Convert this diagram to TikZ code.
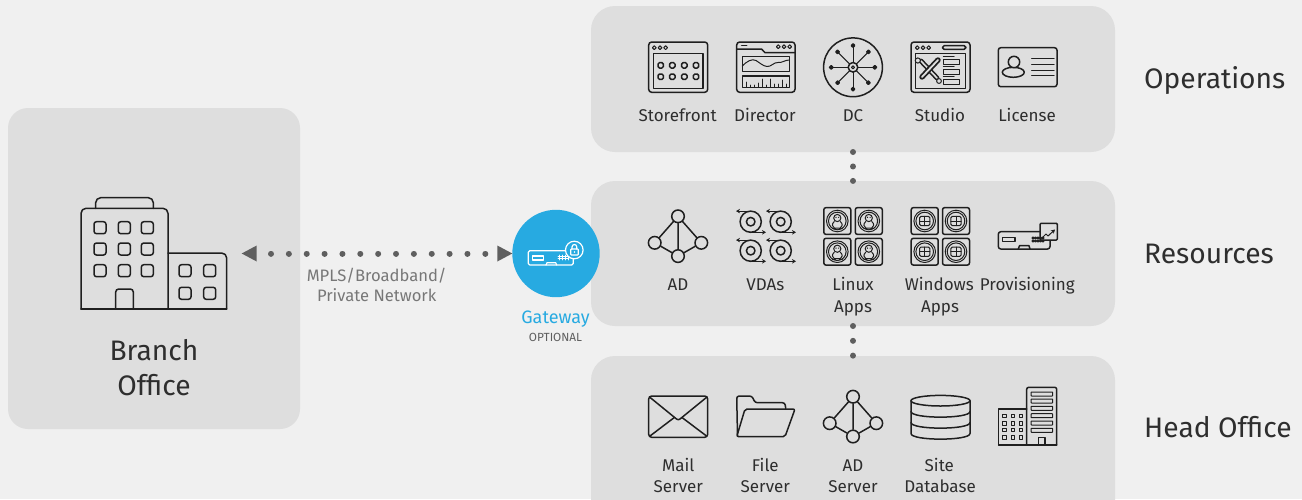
\documentclass[tikz,border=0pt]{standalone}
\usepackage{fontspec}
\setmainfont{Fira Sans}
\usetikzlibrary{arrows.meta}
\definecolor{pagebg}{HTML}{F0F0F0}
\definecolor{panelbg}{HTML}{DEDEDE}
\definecolor{iconc}{HTML}{1F1F1F}
\definecolor{txt}{HTML}{2E2E2E}
\definecolor{linkc}{HTML}{5F5F5F}
\definecolor{mutedc}{HTML}{777777}
\definecolor{gwblue}{HTML}{27AAE1}
\tikzset{
  x=1pt,y=-1pt,
  panelbox/.style={fill=panelbg,rounded corners=24pt,draw=none,inner sep=0,outer sep=0},
  ic/.style={draw=iconc,line width=1.5pt,line join=round,line cap=round},
  thinic/.style={draw=iconc,line width=1pt,line join=round,line cap=round},
  lab/.style={font=\fontsize{17}{20}\selectfont,text=txt,inner sep=0,anchor=base,yshift=-6pt},
  biglab/.style={font=\fontsize{28.2}{32}\selectfont,text=txt,inner sep=0,anchor=base,yshift=-10pt},
  sidelab/.style={font=\fontsize{28.2}{32}\selectfont,text=txt,inner sep=0,anchor=base west,yshift=-10pt},
  mutedlab/.style={font=\fontsize{16.6}{19}\selectfont,text=mutedc,inner sep=0,anchor=base,yshift=-6pt},
  dotlink/.style={draw=linkc,line width=6pt,line cap=round},
  adn/.style={circle,draw=iconc,line width=1.5pt,minimum size=12.6pt,inner sep=0,fill=panelbg},
  adicon/.pic={
    \node[adn] (-t) at (0,0) {};
    \node[adn] (-l) at (-23.3,26.5) {};
    \node[adn] (-r) at (23.3,26.5) {};
    \node[adn] (-b) at (0,39.8) {};
    \draw[ic] (-t)--(-l) (-t)--(-r) (-t)--(-b) (-l)--(-b) (-r)--(-b);
  },
  reel/.pic={
    \draw[ic] (0,0) circle[radius=10.6];
    \draw[ic] (0,0) circle[radius=4.3];
    \draw[thinic,-{Stealth[length=4pt,width=4.5pt]}] (0,-10.6) -- (-14.7,-10.6);
    \draw[thinic,-{Stealth[length=4pt,width=4.5pt]}] (0,10.6) -- (15.3,10.6);
  },
  tile/.pic={
    \draw[ic,rounded corners=2.2pt] (-13.5,-13.4) rectangle (13.5,13.4);
    \draw[thinic] (0,0) circle[radius=10.8];
    \draw[thinic] (0,0) circle[radius=8.8];
  },
  penguin/.pic={
    \draw[thinic] (0,-3) circle[radius=3.6];
    \draw[thinic] (-3,0.5) .. controls (-6,3) and (-5,6) .. (-3,7) -- (3,7) .. controls (5,6) and (6,3) .. (3,0.5);
    \fill[iconc] (-1.3,-3.6) circle[radius=.7] (1.3,-3.6) circle[radius=.7];
    \draw[thinic] (-5,7.5) -- (-2,7.5) (2,7.5) -- (5,7.5);
  },
  winlogo/.pic={
    \draw[thinic,rounded corners=1.4pt] (-5.2,-4.6) rectangle (5.2,4.6);
    \draw[thinic] (0,-4.6) -- (0,4.6) (-5.2,0) -- (5.2,0);
  }
}
\begin{document}
\begin{tikzpicture}
\path[use as bounding box,clip] (0,0) rectangle (1302,499);
\fill[pagebg] (0,0) rectangle (1302,499);

% panels
\node[panelbox,minimum width=292pt,minimum height=321pt,rounded corners=20pt] (branch) at (154,268.5) {};
\node[panelbox,minimum width=524pt,minimum height=146pt] (ops) at (853,79) {};
\node[panelbox,minimum width=524pt,minimum height=145pt] (res) at (853,253.5) {};
\node[panelbox,minimum width=524pt,minimum height=170pt] (head) at (853,441) {};

% dotted links
\draw[dotlink,dash pattern=on 0.01pt off 14.45pt] (ops.south) -- (res.north);
\draw[dotlink,dash pattern=on 0.01pt off 14.8pt] (res.south) -- (head.north);

% gateway
\node[circle,fill=gwblue,minimum size=87.4pt,inner sep=0,outer sep=0] (gw) at (556,253.5) {};
\coordinate (leftend) at (241.7,253.5);
\coordinate (dotA) at (271,253.5);
\coordinate (dotB) at (485.5,253.5);
\draw[dotlink,dash pattern=on 0.01pt off 17.85pt] (dotA) -- (dotB);
\fill[linkc] (leftend) -- ++(15,-8) -- ++(0,16) -- cycle;
\fill[linkc] (gw.west) -- ++(-15,-8) -- ++(0,16) -- cycle;
\begin{scope}[draw=white,line width=1.2pt,line join=round,line cap=round]
  \draw[white,rounded corners=1.5pt] (528.3,250.7) rectangle (573.3,265);
  \draw[white] (532.3,256) rectangle (543.3,260);
  \draw[white] (546,265) -- (547,262.7) -- (555.7,262.7) -- (556.7,265);
  \draw[white,line width=.8pt] (559,255) -- (559,260) (562,255) -- (562,260) (565,255) -- (565,260) (568,255) -- (568,260) (558,256.5) -- (569,256.5) (558,258.7) -- (569,258.7);
  \draw[white,fill=gwblue] (574.3,250) circle[radius=8.8];
  \draw[white,rounded corners=.7pt] (570.7,249) rectangle (578.3,255);
  \draw[white] (572,249) -- (572,247) .. controls (572,243.7) and (576.8,243.7) .. (576.8,247) -- (576.8,249);
  \fill[white] (574.5,252) circle[radius=.9];
\end{scope}
\node[mutedlab] (mpls1) at (376.7,275) {MPLS/Broadband/};
\node[mutedlab] (mpls2) at (376.7,295) {Private Network};
\node[lab,font=\fontsize{18}{20}\selectfont,text=gwblue] (gwlab) at (555.5,317) {Gateway};
\node[lab,font=\fontsize{11.8}{13}\selectfont,text=linkc,yshift=2pt] (gwopt) at (555.5,337) {OPTIONAL};

% branch building
\begin{scope}[every path/.append style={ic}]
  \draw[rounded corners=5pt] (95.7,208.3) -- (95.7,197.7) -- (153.3,197.7) -- (153.3,208.3);
  \draw[rounded corners=5pt] (81,309) -- (81,208.3) -- (168,208.3) -- (168,309);
  \draw[rounded corners=5pt] (168,253) -- (226.7,253) -- (226.7,309);
  \draw (81,309) -- (226.7,309);
  \draw[rounded corners=3pt] (115.7,309) -- (115.7,289) -- (133.3,289) -- (133.3,309);
  \foreach \wx in {100,124.3,147.3} \foreach \wy in {227.7,249,270.7}
    \draw[rounded corners=2.5pt] (\wx-6,\wy-6) rectangle (\wx+6,\wy+6);
  \foreach \wx in {185,209.7} \foreach \wy in {270.7,293.3}
    \draw[rounded corners=2.5pt] (\wx-6,\wy-6) rectangle (\wx+6,\wy+6);
\end{scope}
\node[biglab] (brA) at (154,350) {Branch};
\node[biglab] (brB) at (154,385) {Office};

% side labels
\node[sidelab] (opl) at (1144,78) {Operations};
\node[sidelab] (resl) at (1144,253) {Resources};
\node[sidelab] (hol) at (1144,427) {Head Office};

% Storefront
\begin{scope}[every path/.append style={ic}]
  \draw[rounded corners=3pt] (648.7,42) rectangle (707.7,92.3);
  \draw (653.3,53.3) rectangle (703,88.3);
  \foreach \cx in {654.3,660,665.6} \draw[thinic] (\cx,47.7) circle[radius=1.9];
  \foreach \cx in {660.7,672.3,684.3,696} \foreach \cy in {65.3,76.7}
    \draw[rounded corners=1.5pt] (\cx-2.7,\cy-2.7) rectangle (\cx+2.7,\cy+2.7);
\end{scope}
\node[lab] (l1) at (677.7,115) {Storefront};

% Director
\begin{scope}[every path/.append style={ic}]
  \draw[rounded corners=3pt] (736.7,42) rectangle (795,92.3);
  \draw (736.7,49.2) -- (761.7,49.2) -- (765,52.7) -- (795,52.7);
  \draw (741.7,45.7) -- (746.7,45.7);
  \foreach \cx in {778.3,784,789.7} \draw[thinic] (\cx,46.7) circle[radius=1.9];
  \draw (742.3,56.7) rectangle (789.3,71.7);
  \draw (742.3,76) rectangle (789.3,87.3);
  \draw[thinic] (742.3,66) .. controls (746,62) and (752,58) .. (756,60.5) .. controls (760,63) and (763,66) .. (767,66.5) .. controls (771,67) and (774,62) .. (778,62.5) .. controls (782,63) and (785,60) .. (789.3,60);
  \foreach \bx/\by in {746/82,750/85,754/85,758/83,762/79,766/85,770/79,774/84,778/84,782/80,786/84}
    \draw[thinic] (\bx,87.3) -- (\bx,\by);
\end{scope}
\node[lab] (l2) at (765,115) {Director};

% DC
\begin{scope}[every path/.append style={ic}]
  \draw (853,67.3) circle[radius=29.4];
  \draw (853,67.3) circle[radius=4.8];
  \draw[thinic] (853,67.3) circle[radius=1.5];
  \foreach \a in {0,45,...,315} {
    \draw[thinic] (853,67.3) ++(\a:4.8) -- ++(\a:17);
    \fill[iconc] (853,67.3) ++(\a:21.8) circle[radius=1.7];
  }
\end{scope}
\node[lab] (l3) at (853,115) {DC};

% Studio
\begin{scope}[every path/.append style={ic}]
  \draw[rounded corners=3pt] (911,42) rectangle (970,92.3);
  \draw (915.7,53.3) rectangle (965.7,88.3);
  \foreach \cx in {917.3,923,928.7} \draw[thinic] (\cx,47.7) circle[radius=1.9];
  \draw[rounded corners=1.8pt] (942.3,45.7) rectangle (966,49.3);
  \foreach \ry in {59.3,69.3,79.3} {
    \draw[thinic] (943.3,\ry) rectangle (959.3,\ry+4.7);
    \draw[thinic] (943.3,\ry-2.7) -- (954,\ry-2.7);
  }
  \draw[draw=iconc,line width=4.8pt,line cap=round] (921,61) -- (937,78);
  \draw[draw=panelbg,line width=1.6pt,line cap=round] (921,61) -- (937,78);
  \draw[draw=iconc,line width=5.4pt,line cap=round] (938,60) -- (922,77);
  \draw[draw=panelbg,line width=1.8pt,line cap=round] (938,60) -- (922,77);
  \draw[thinic,fill=panelbg] (917.8,60.5) circle[radius=2.6];
  \draw[thinic,fill=panelbg] (939,81) circle[radius=2.4];
\end{scope}
\node[lab] (l4) at (940,115) {Studio};

% License
\begin{scope}[every path/.append style={ic}]
  \draw[rounded corners=2.5pt] (998.3,47.7) rectangle (1057,86.7);
  \draw (1013.3,72.3) ellipse[x radius=11,y radius=5];
  \draw[fill=panelbg] (1014,62) circle[radius=5.7];
  \foreach \ly in {58.3,64,70,75.7} \draw[thinic] (1031.7,\ly) -- (1054,\ly);
\end{scope}
\node[lab] (l5) at (1027,115) {License};

% Resources row
\pic (adA) at (678,216.3) {adicon};
\node[lab] (r1) at (678,284) {AD};
\foreach \rx in {750.7,780.7} \foreach \ry in {221.7,250.7} \pic at (\rx,\ry) {reel};
\node[lab] (r2) at (765.3,284) {VDAs};
\foreach \tx in {837.3,868.8} \foreach \ty in {221,251.7} { \pic at (\tx,\ty) {tile}; \pic at (\tx,\ty) {penguin}; }
\node[lab] (r3) at (853,284) {Linux};
\node[lab] (r3b) at (853,306) {Apps};
\foreach \tx in {924.7,956} \foreach \ty in {221,251.7} { \pic at (\tx,\ty) {tile}; \pic at (\tx,\ty) {winlogo}; }
\node[lab] (r4) at (939.3,284) {Windows};
\node[lab] (r4b) at (940,306) {Apps};
% provisioning
\begin{scope}[every path/.append style={ic}]
  \draw[rounded corners=2.5pt] (998.3,231.7) rectangle (1050,249);
  \draw (1002.7,237.3) rectangle (1015,241.7);
  \draw (1018.3,249) -- (1019.5,245.7) -- (1029,245.7) -- (1030,249);
  \draw[rounded corners=1pt,fill=panelbg] (1040,223.3) rectangle (1057.3,240);
  \foreach \dx in {1033,1035.5,1038,1040.5,1043} \foreach \dy in {238,241} \fill[iconc] (\dx,\dy) circle[radius=.8];
  \draw[thinic,-{Stealth[length=4pt,width=4.5pt]}] (1042,238) -- (1046,234) -- (1048,236) -- (1055,229.5);
\end{scope}
\node[lab] (r5) at (1027.3,284) {Provisioning};

% Head office row
\begin{scope}[every path/.append style={ic}]
  \draw[rounded corners=3pt] (648.7,396) rectangle (707.7,437.3);
  \draw (649.5,397) -- (676.5,419) .. controls (677.7,420) and (678.9,420) .. (680,419) -- (707,397);
  \draw (650,436) -- (674.3,417.5);
  \draw (706.5,436) -- (682,417.5);
\end{scope}
\node[lab] (h1) at (678.3,465) {Mail};
\node[lab] (h1b) at (678.3,486) {Server};
\begin{scope}[every path/.append style={ic}]
  \draw[rounded corners=2.5pt] (737.5,436) -- (736.7,396) -- (752,396) -- (755,402.7) -- (785,402.7) -- (785.7,408.5);
  \draw[rounded corners=2pt] (745,409) -- (795,409) -- (785,436.7) -- (736.7,436.7) -- cycle;
\end{scope}
\node[lab] (h2) at (765.3,465) {File};
\node[lab] (h2b) at (765.3,486) {Server};
\pic (adB) at (853,396.7) {adicon};
\node[lab] (h3) at (853,465) {AD};
\node[lab] (h3b) at (853,486) {Server};
\begin{scope}[every path/.append style={ic}]
  \draw (940.5,400.7) ellipse[x radius=29.5,y radius=5.3];
  \draw (911,400.7) -- (911,433.5) .. controls (911,441) and (970,441) .. (970,433.5) -- (970,400.7);
  \draw (911,411.5) .. controls (911,419) and (970,419) .. (970,411.5);
  \draw (911,422.5) .. controls (911,430) and (970,430) .. (970,422.5);
\end{scope}
\node[lab] (h4) at (939.3,465) {Site};
\node[lab] (h4b) at (940,486) {Database};
\begin{scope}[every path/.append style={ic}]
  \draw[rounded corners=2pt] (1026.7,445) -- (1026.7,387.3) -- (1056.7,387.3) -- (1056.7,445);
  \draw (998.7,445) -- (998.7,409) -- (1026.7,409);
  \draw (998.7,445) -- (1056.7,445);
  \foreach \wx in {1004.3,1012.7,1020.7} \foreach \wy in {416,423.3,430,437.3}
    \draw[thinic] (\wx-1.7,\wy-1.7) rectangle (\wx+1.7,\wy+1.7);
  \foreach \wy in {394,401,408.3,415.7,423,430.3}
    \draw[thinic,rounded corners=.6pt] (1031,\wy-2) rectangle (1052.7,\wy+2);
  \draw (1038.3,445) -- (1038.3,437.3) -- (1045,437.3) -- (1045,445);
\end{scope}
\end{tikzpicture}
\end{document}
